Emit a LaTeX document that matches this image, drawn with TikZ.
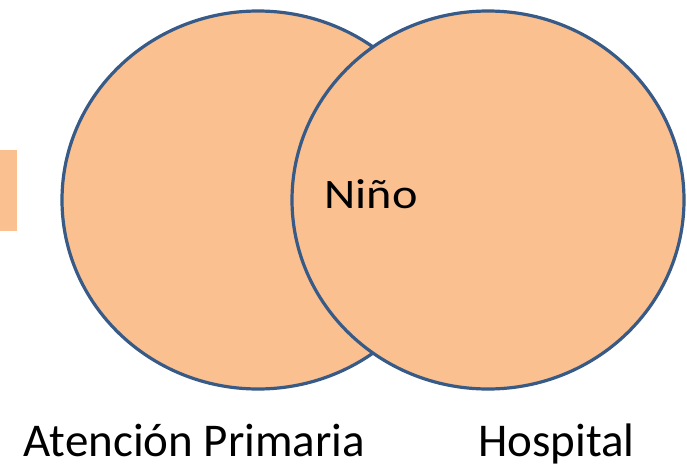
\documentclass[tikz,border=0pt]{standalone}
\usepackage{fontspec}
\setmainfont{Carlito}
\definecolor{setfill}{RGB}{250,192,144}
\definecolor{setline}{RGB}{56,90,135}
\begin{document}
\begin{tikzpicture}[x=1pt,y=-1pt,
  setshape/.style={fill=setfill,draw=setline,line width=3.2pt},
  lbl/.style={anchor=base,inner sep=0pt,text=black,font=\fontsize{47}{50}\selectfont}]
\useasboundingbox (0,0) rectangle (687,468);
\fill[setfill] (0,150) rectangle (17,231);
\draw[setshape] (258,200) ellipse [x radius=196, y radius=189];
\draw[setshape] (488,200) ellipse [x radius=196, y radius=189];
\node[lbl,font=\fontsize{42}{45}\selectfont,xscale=1.15] (nino) at (371,208) {Niño};
\node[lbl] (ap) at (194.5,456) {Atención Primaria};
\node[lbl] (hosp) at (556.5,456) {Hospital};
\end{tikzpicture}
\end{document}
